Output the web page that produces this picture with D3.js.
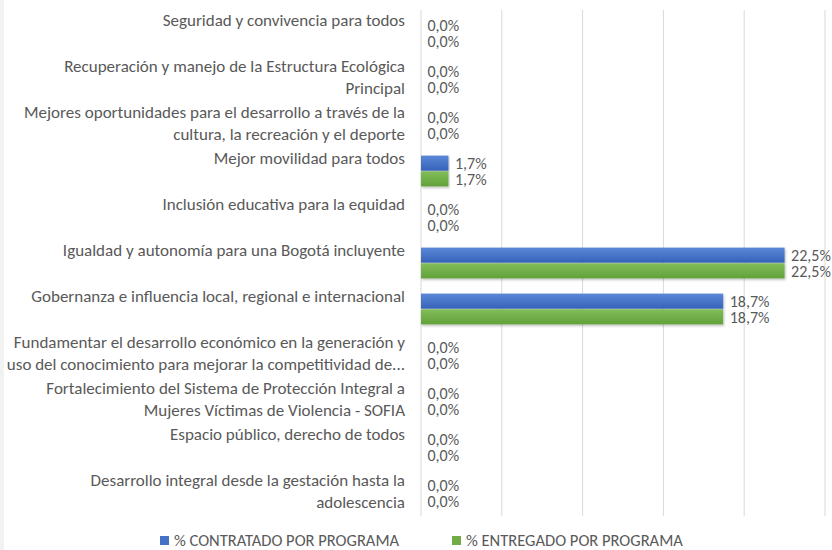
<!DOCTYPE html>
<html lang="es">
<head>
<meta charset="UTF-8">
<script src="https://cdn.jsdelivr.net/npm/d3@7"></script>
<style>
  body { margin: 0; background: #fff; }
  svg text { font-family: Calibri, Carlito, Lato, sans-serif; fill: #595959; }
</style>
</head>
<body>
<div id="chart"></div>
<script>
// categories, top to bottom, already wrapped the way the original shows them
var categories = [
  ["Seguridad y convivencia para todos"],
  ["Recuperación y manejo de la Estructura Ecológica", "Principal"],
  ["Mejores oportunidades para el desarrollo a través de la", "cultura, la recreación y el deporte"],
  ["Mejor movilidad para todos"],
  ["Inclusión educativa para la equidad"],
  ["Igualdad y autonomía para una Bogotá incluyente"],
  ["Gobernanza e influencia local, regional e internacional"],
  ["Fundamentar el desarrollo económico en la generación y", "uso del conocimiento para mejorar la competitividad de..."],
  ["Fortalecimiento del Sistema de Protección Integral a", "Mujeres Víctimas de Violencia - SOFIA"],
  ["Espacio público, derecho de todos"],
  ["Desarrollo integral desde la gestación hasta la", "adolescencia"]
];
var seriesNames = ["% CONTRATADO POR PROGRAMA", "% ENTREGADO POR PROGRAMA"];
var contratado = [0, 0, 0, 1.7, 0, 22.5, 18.7, 0, 0, 0, 0];
var entregado  = [0, 0, 0, 1.7, 0, 22.5, 18.7, 0, 0, 0, 0];
var xTicks = [0, 5, 10, 15, 20, 25];

var W = 832, H = 550;
var plot = { left: 421, right: 825, top: 10, bottom: 516 };

var svg = d3.select("#chart").append("svg")
  .attr("width", W).attr("height", H);

// light grey strip on the left edge
svg.append("rect").attr("x", 0).attr("y", 0).attr("width", 4).attr("height", H).attr("fill", "#f2f2f2");

var defs = svg.append("defs");
function grad(id, top, bottom) {
  var g = defs.append("linearGradient").attr("id", id)
    .attr("x1", 0).attr("y1", 0).attr("x2", 0).attr("y2", 1);
  g.append("stop").attr("offset", "0%").attr("stop-color", top);
  g.append("stop").attr("offset", "100%").attr("stop-color", bottom);
}
grad("gBlue", "#5b88d7", "#3662b9");
grad("gGreen", "#81bd59", "#62a13a");
var colors = ["url(#gBlue)", "url(#gGreen)"];
var legendColors = ["#4472c4", "#70ad47"];

var shadow = defs.append("filter").attr("id", "shadow")
  .attr("x", "-5%").attr("y", "-20%").attr("width", "110%").attr("height", "160%");
shadow.append("feDropShadow").attr("dx", 1).attr("dy", 1.5).attr("stdDeviation", 1)
  .attr("flood-color", "#000").attr("flood-opacity", 0.25);

var x = d3.scaleLinear().domain([0, 25]).range([plot.left, plot.right]);

var y = d3.scaleBand()
  .domain(d3.range(categories.length))
  .range([plot.top, plot.bottom])
  .paddingInner(0.33).paddingOuter(0.165);

var y1 = d3.scaleBand().domain([0, 1]).range([0, y.bandwidth()]).paddingInner(0.04);

// gridlines
svg.append("g").selectAll("line").data(xTicks).enter().append("line")
  .attr("x1", function (d) { return x(d); })
  .attr("x2", function (d) { return x(d); })
  .attr("y1", plot.top).attr("y2", plot.bottom)
  .attr("stroke", "#d9d9d9").attr("stroke-width", 1);

var rows = categories.map(function (c, i) {
  return { i: i, lines: c, vals: [contratado[i], entregado[i]] };
});

// category labels
var labels = svg.append("g").selectAll("text").data(rows).enter().append("text")
  .attr("text-anchor", "end")
  .style("font-size", "17px");
labels.selectAll("tspan").data(function (d) {
    return d.lines.map(function (l, k) { return { text: l, k: k, c: y(d.i) + y.bandwidth() / 2 }; });
  }).enter().append("tspan")
  .attr("x", 405)
  .attr("y", function (d) { return d.c + (d.k === 0 ? -12.5 : 9) + 5.5; })
  .text(function (d) { return d.text; });

// bars
var groups = svg.append("g").selectAll("g").data(rows).enter().append("g")
  .attr("transform", function (d) { return "translate(0," + y(d.i) + ")"; });

groups.selectAll("rect").data(function (d) { return d.vals.map(function (v, s) { return { v: v, s: s }; }); })
  .enter().append("rect")
  .filter(function (d) { return d.v > 0; })
  .attr("x", x(0))
  .attr("y", function (d) { return y1(d.s); })
  .attr("width", function (d) { return x(d.v) - x(0); })
  .attr("height", y1.bandwidth())
  .attr("fill", function (d) { return colors[d.s]; })
  .attr("filter", "url(#shadow)");

// value labels
groups.selectAll("text").data(function (d) { return d.vals.map(function (v, s) { return { v: v, s: s }; }); })
  .enter().append("text")
  .attr("x", function (d) { return x(d.v) + 6.5; })
  .attr("y", function (d) { return y1(d.s) + y1.bandwidth() / 2 + 6; })
  .style("font-size", "16px")
  .text(function (d) { return d.v.toFixed(1).replace(".", ",") + "%"; });

// legend
var legendX = [160, 452];
var legend = svg.append("g").selectAll("g").data(seriesNames).enter().append("g")
  .attr("transform", function (d, i) { return "translate(" + legendX[i] + ",536)"; });
legend.append("rect").attr("width", 9).attr("height", 9)
  .attr("fill", function (d, i) { return legendColors[i]; });
legend.append("text").attr("x", 14).attr("y", 10).style("font-size", "16.5px")
  .text(function (d) { return d; });
</script>
</body>
</html>
